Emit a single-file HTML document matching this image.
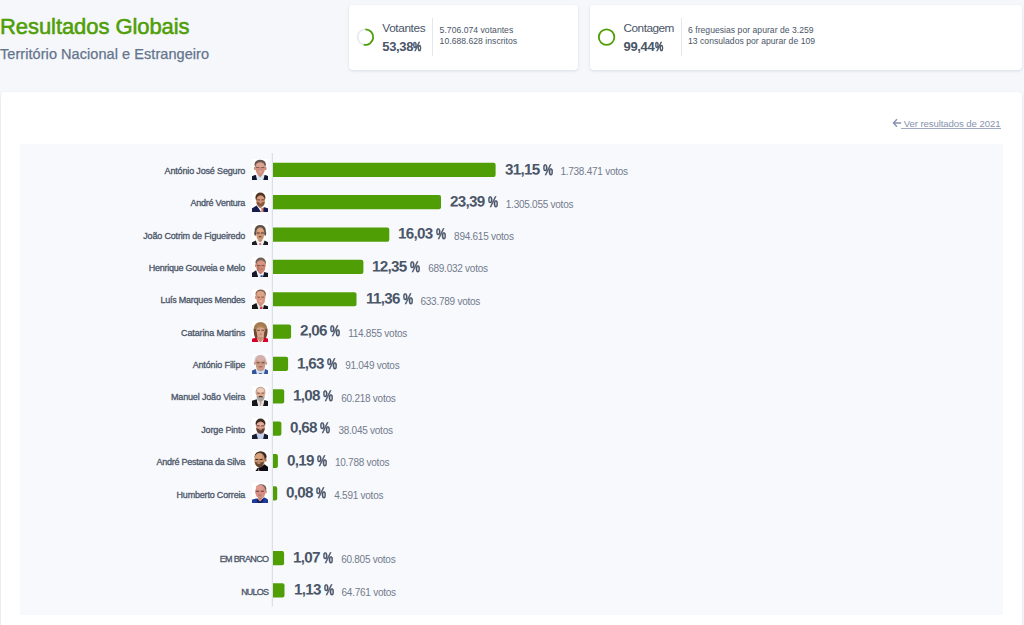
<!DOCTYPE html>
<html lang="pt">
<head>
<meta charset="utf-8">
<title>Resultados Globais</title>
<style>
*{box-sizing:border-box;margin:0;padding:0}
html,body{width:1024px;height:625px;overflow:hidden}
body{background:#f5f7fb;font-family:"Liberation Sans",sans-serif;color:#4a5568;position:relative}
.abs{position:absolute;white-space:nowrap}
#title{left:0px;top:12.4px;font-size:22px;line-height:30px;color:#4f9e06;-webkit-text-stroke:0.55px #4f9e06;letter-spacing:-0.07px}
#subtitle{left:0;top:44.5px;font-size:14.5px;line-height:18px;color:#64748b;-webkit-text-stroke:0.25px #64748b;letter-spacing:0.06px}
.card{position:absolute;background:#fff;border-radius:4px;box-shadow:0 1px 3px rgba(160,174,192,.35)}
#c1{left:348.5px;top:4.5px;width:229px;height:65px}
#c2{left:589.7px;top:4.5px;width:431.9px;height:65px}
#main{left:1px;top:92px;width:1020.6px;height:560px}
.lbl{font-size:11.8px;line-height:14px;color:#4a5568}
.pct{font-size:13px;line-height:16px;font-weight:bold;color:#4a5568;letter-spacing:-0.35px}
.pct i{font-style:normal;display:inline-block;width:8.4px;margin-left:0.3px;letter-spacing:0;transform:scaleX(.72);transform-origin:0 50%;-webkit-text-stroke:0.5px #4a5568}
.sm{font-size:8.6px;line-height:11px;color:#4a5568;letter-spacing:0.03px}
.vsep{position:absolute;width:1px;height:37.5px;top:18.3px;background:#e2e8f0}
#link{left:903.7px;top:117.5px;font-size:9.6px;line-height:12px;color:#8793ae;letter-spacing:-0.09px}
#panel{position:absolute;left:20px;top:143.5px;width:982.5px;height:471.6px;background:#f8f9fc}
.name{font-size:9px;line-height:14px;color:#4a5568;-webkit-text-stroke:0.3px #4a5568;letter-spacing:-0.17px}
.ph{left:251.9px;width:16.3px;height:20.6px;background:#fff;overflow:hidden}
.ph svg{display:block}
.val{font-size:15.2px;line-height:18px;font-weight:bold;color:#4a5568;letter-spacing:-0.7px}
.val b{display:inline-block;transform:translateY(-0.5px) rotate(0.03deg);transform-origin:0 58%}
.val i{font-style:normal;display:inline-block;width:9.9px;margin-left:0.2px;letter-spacing:0;transform:scaleX(.75);transform-origin:0 50%;-webkit-text-stroke:0.4px #4a5568}
.val span{font-size:10px;font-weight:normal;color:#727b8c;margin-left:7.7px;letter-spacing:-0.25px;position:relative;top:0.6px}
</style>
</head>
<body>
<div id="title" class="abs">Resultados Globais</div>
<div id="subtitle" class="abs">Território Nacional e Estrangeiro</div>
<div id="c1" class="card"></div>
<div id="c2" class="card"></div>
<svg class="abs" style="left:340px;top:0" width="300" height="80" viewBox="340 0 300 80">
<circle cx="365.4" cy="37.1" r="7.8" fill="none" stroke="#e6ebf3" stroke-width="1.8"/>
<path d="M365.4 29.3 A7.8 7.8 0 1 1 363.75 44.72" fill="none" stroke="#4f9e06" stroke-width="1.8"/>
<circle cx="606.6" cy="37.1" r="7.8" fill="none" stroke="#4f9e06" stroke-width="1.8"/>
</svg>
<div class="abs lbl" style="left:382.3px;top:20.6px;letter-spacing:-0.38px">Votantes</div>
<div class="abs pct" style="left:382.3px;top:39.1px">53,38<i>%</i></div>
<div class="vsep" style="left:432.2px"></div>
<div class="abs sm" style="left:439.6px;top:25.2px">5.706.074 votantes</div>
<div class="abs sm" style="left:439.6px;top:36.2px">10.688.628 inscritos</div>
<div class="abs lbl" style="left:623.5px;top:20.6px;letter-spacing:-0.5px">Contagem</div>
<div class="abs pct" style="left:623.5px;top:39.1px">99,44<i>%</i></div>
<div class="vsep" style="left:681px"></div>
<div class="abs sm" style="left:688px;top:25.2px">6 freguesias por apurar de 3.259</div>
<div class="abs sm" style="left:688px;top:36.2px">13 consulados por apurar de 109</div>
<div id="main" class="card"></div>
<div id="panel"></div>
<svg class="abs" style="left:892px;top:118.3px" width="10" height="10" viewBox="0 0 10 10"><path d="M9.2 5H1.9M5 1.3L1.4 5l3.6 3.7" fill="none" stroke="#8592ad" stroke-width="1.35"/></svg>
<div class="abs" style="left:901px;top:127.7px;width:99.5px;height:1px;background:#a0aabf"></div>
<div id="link" class="abs" style="text-decoration:none">Ver resultados de 2021</div>
<svg class="abs" style="left:0;top:0" width="1024" height="625" viewBox="0 0 1024 625">
<rect x="271.8" y="153" width="1" height="453.5" fill="#d3d9e5"/>
<path d="M273 162.75h220.6a2 2 0 0 1 2 2v10.2a2 2 0 0 1 -2 2h-220.6z" fill="#4f9e06"/>
<path d="M273 195.10h166.0a2 2 0 0 1 2 2v10.2a2 2 0 0 1 -2 2h-166.0z" fill="#4f9e06"/>
<path d="M273 227.45h114.3a2 2 0 0 1 2 2v10.2a2 2 0 0 1 -2 2h-114.3z" fill="#4f9e06"/>
<path d="M273 259.80h88.4a2 2 0 0 1 2 2v10.2a2 2 0 0 1 -2 2h-88.4z" fill="#4f9e06"/>
<path d="M273 292.15h81.5a2 2 0 0 1 2 2v10.2a2 2 0 0 1 -2 2h-81.5z" fill="#4f9e06"/>
<path d="M273 324.50h16.1a2 2 0 0 1 2 2v10.2a2 2 0 0 1 -2 2h-16.1z" fill="#4f9e06"/>
<path d="M273 356.85h13.1a2 2 0 0 1 2 2v10.2a2 2 0 0 1 -2 2h-13.1z" fill="#4f9e06"/>
<path d="M273 389.20h9.2a2 2 0 0 1 2 2v10.2a2 2 0 0 1 -2 2h-9.2z" fill="#4f9e06"/>
<path d="M273 421.55h6.4a2 2 0 0 1 2 2v10.2a2 2 0 0 1 -2 2h-6.4z" fill="#4f9e06"/>
<path d="M273 453.90h2.9a2 2 0 0 1 2 2v10.2a2 2 0 0 1 -2 2h-2.9z" fill="#4f9e06"/>
<path d="M273 486.25h2.2a2 2 0 0 1 2 2v10.2a2 2 0 0 1 -2 2h-2.2z" fill="#4f9e06"/>
<path d="M273 550.95h9.1a2 2 0 0 1 2 2v10.2a2 2 0 0 1 -2 2h-9.1z" fill="#4f9e06"/>
<path d="M273 583.30h9.5a2 2 0 0 1 2 2v10.2a2 2 0 0 1 -2 2h-9.5z" fill="#4f9e06"/>
</svg>
<div class="abs name" style="right:778.9px;top:163.9px;letter-spacing:-0.159px">António José Seguro</div>
<div class="abs ph" style="top:159.4px"><svg width="16.3" height="20.6" viewBox="0 0 16.3 21" preserveAspectRatio="none"><defs><filter id="b0" x="-20%" y="-20%" width="140%" height="140%"><feGaussianBlur stdDeviation="0.42"/></filter></defs><rect width="16.3" height="21" fill="#ffffff"/><g filter="url(#b0)"><path d="M3 16.4L4.6 21.5H11.8L13.4 16.4L8.2 14z" fill="#dfe7f2"/><path d="M-1 22V18L2.2 16.6L3.8 16.2L5.2 21.8zM17.3 22V18L14.2 16.6L12.6 16.2L11.2 21.8z" fill="#10132e"/><path d="M6 13h4.4v3.2l-2.2 2.6l-2.2-2.6z" fill="#c98878"/><ellipse cx="8.2" cy="5.6" rx="5.7" ry="4.9" fill="#635653" /><ellipse cx="2.8" cy="9.6" rx="0.9" ry="1.7" fill="#c98a7c" /><ellipse cx="13.7" cy="9.6" rx="0.9" ry="1.7" fill="#c98a7c" /><ellipse cx="8.2" cy="9.0" rx="5.1" ry="5.9" fill="#cf907f" /><ellipse cx="8.2" cy="12.2" rx="4.1" ry="4.3" fill="#cf907f" /><ellipse cx="8.2" cy="6.2" rx="3.9" ry="2.4" fill="#dda392" /><path d="M4.2 8.4h3.2v0.9H4.2zM9.1 8.4h3.2v0.9H9.1z" fill="#6e4a42"/><ellipse cx="8.2" cy="13.1" rx="1.8" ry="0.6" fill="#e6b8b0" /></g></svg></div>
<div class="abs val" style="left:504.6px;top:160.80px"><b>31,15 <i>%</i></b><span>1.738.471 votos</span></div>
<div class="abs name" style="right:778.9px;top:196.3px;letter-spacing:-0.216px">André Ventura</div>
<div class="abs ph" style="top:191.8px"><svg width="16.3" height="20.6" viewBox="0 0 16.3 21" preserveAspectRatio="none"><defs><filter id="b1" x="-20%" y="-20%" width="140%" height="140%"><feGaussianBlur stdDeviation="0.42"/></filter></defs><rect width="16.3" height="21" fill="#ffffff"/><g filter="url(#b1)"><path d="M-1 22V17.4L4.6 13.7L8.6 19L11.7 15.2L17.3 17.2V22z" fill="#151b4d"/><path d="M5.6 14.4L9.4 21.5L11.8 15.2L8.4 13.5z" fill="#f4f4f6"/><path d="M9.4 16.4h1.9l0.3 5h-2.4z" fill="#d8806c"/><path d="M6.3 11.5h4.2v3.6l-2.1 1.4l-2.1-1.4z" fill="#b57a60"/><ellipse cx="8.4" cy="5.6" rx="5.0" ry="5.0" fill="#4e3528" /><ellipse cx="8.6" cy="8.9" rx="4.2" ry="5.6" fill="#cf9072" /><ellipse cx="8.6" cy="11.4" rx="3.7" ry="3.4" fill="#cf9072" /><ellipse cx="8.6" cy="6.0" rx="3.0" ry="1.6" fill="#d99c7a" /><path d="M4.4 9.8Q8.5 11.6 12.8 9.8Q12.6 14.9 8.6 14.9Q4.6 14.9 4.4 9.8z" fill="#86593f"/><path d="M5.2 7.6h2.7v0.8H5.2zM9.3 7.6h2.7v0.8H9.3z" fill="#4a3026"/><ellipse cx="8.6" cy="10.8" rx="1.6" ry="0.9" fill="#c98b70" /></g></svg></div>
<div class="abs val" style="left:450.0px;top:193.13px"><b>23,39 <i>%</i></b><span>1.305.055 votos</span></div>
<div class="abs name" style="right:778.9px;top:228.6px;letter-spacing:-0.166px">João Cotrim de Figueiredo</div>
<div class="abs ph" style="top:224.1px"><svg width="16.3" height="20.6" viewBox="0 0 16.3 21" preserveAspectRatio="none"><defs><filter id="b2" x="-20%" y="-20%" width="140%" height="140%"><feGaussianBlur stdDeviation="0.42"/></filter></defs><rect width="16.3" height="21" fill="#ffffff"/><g filter="url(#b2)"><path d="M3.4 17L5 21.5H11.4L13 17L8.2 15z" fill="#f2f2f4"/><path d="M-1 22V19L3.8 16.8L5.6 21.8zM17.3 22V19L12.6 16.8L10.8 21.8z" fill="#1c1e22"/><path d="M7.5 19.4h1.5l0.4 2.3h-2.3z" fill="#e0707a"/><path d="M6.2 13h4v4l-2 1.6l-2-1.6z" fill="#c08a68"/><ellipse cx="8.2" cy="6.2" rx="5.6" ry="5.2" fill="#5a4f49" /><ellipse cx="3.3" cy="9.5" rx="1.1" ry="2.6" fill="#5a4f49" /><ellipse cx="13.1" cy="9.5" rx="1.1" ry="2.6" fill="#5a4f49" /><ellipse cx="8.2" cy="9.2" rx="4.2" ry="5.8" fill="#cf9676" /><ellipse cx="8.2" cy="12.4" rx="3.6" ry="4.0" fill="#cf9676" /><ellipse cx="8.2" cy="6.2" rx="2.9" ry="1.9" fill="#e0a684" /><path d="M4.6 8.7h3v1h-3zM8.9 8.7h3v1h-3z" fill="#4e3a30"/><ellipse cx="8.2" cy="13.0" rx="1.7" ry="0.6" fill="#4a3026" /></g></svg></div>
<div class="abs val" style="left:398.3px;top:225.47px"><b>16,03 <i>%</i></b><span>894.615 votos</span></div>
<div class="abs name" style="right:779.0px;top:261.0px;letter-spacing:-0.253px">Henrique Gouveia e Melo</div>
<div class="abs ph" style="top:256.5px"><svg width="16.3" height="20.6" viewBox="0 0 16.3 21" preserveAspectRatio="none"><defs><filter id="b3" x="-20%" y="-20%" width="140%" height="140%"><feGaussianBlur stdDeviation="0.42"/></filter></defs><rect width="16.3" height="21" fill="#ffffff"/><g filter="url(#b3)"><path d="M-1 22V16.8L4.2 13.4L6.6 21.8zM17.3 22V16.6L11.8 15.4L10.6 21.8z" fill="#14172b"/><path d="M5 14.4L6.8 21.5H10.6L12 15.4L8.6 13.5z" fill="#eef1f6"/><path d="M8.6 18.7h2l0.3 3h-2.6z" fill="#2b4fa0"/><path d="M6.6 12.4h4v3.6l-2 1.6l-2-1.6z" fill="#c07c68"/><ellipse cx="8.7" cy="5.4" rx="5.2" ry="4.9" fill="#6e605a" /><ellipse cx="3.9" cy="8.8" rx="0.9" ry="1.7" fill="#c98672" /><ellipse cx="8.9" cy="8.6" rx="4.8" ry="5.6" fill="#cf8874" /><ellipse cx="8.9" cy="11.6" rx="4.2" ry="4.2" fill="#cf8874" /><ellipse cx="9.0" cy="6.1" rx="3.6" ry="1.8" fill="#da9884" /><path d="M5.2 8.1h3v0.9h-3zM9.6 8.1h3v0.9h-3z" fill="#5e4038"/><ellipse cx="6" cy="11.6" rx="1.2" ry="2.6" fill="#b87462" /><ellipse cx="9" cy="12.3" rx="1.9" ry="0.6" fill="#b87466" /></g></svg></div>
<div class="abs val" style="left:372.4px;top:257.80px"><b>12,35 <i>%</i></b><span>689.032 votos</span></div>
<div class="abs name" style="right:778.9px;top:293.4px;letter-spacing:-0.228px">Luís Marques Mendes</div>
<div class="abs ph" style="top:288.8px"><svg width="16.3" height="20.6" viewBox="0 0 16.3 21" preserveAspectRatio="none"><defs><filter id="b4" x="-20%" y="-20%" width="140%" height="140%"><feGaussianBlur stdDeviation="0.42"/></filter></defs><rect width="16.3" height="21" fill="#ffffff"/><g filter="url(#b4)"><path d="M4.4 14.6L6.4 21.5H11L12.4 16.2L8.6 14z" fill="#e8eef2"/><path d="M-1 22V17.2L4.4 14.3L6.8 21.8zM17.3 22V18L12 16.2L10.6 21.8z" fill="#121316"/><path d="M8 17.8h2.4l0.2 2.4l-1.4 0.9l-1.4-0.9z" fill="#d6404a"/><path d="M6.6 12.6h4v3.4l-2 1.8l-2-1.8z" fill="#cc8c74"/><ellipse cx="8.7" cy="5.2" rx="5.2" ry="4.7" fill="#80604f" /><ellipse cx="3.7" cy="8.6" rx="0.8" ry="1.6" fill="#d59880" /><ellipse cx="8.7" cy="8.4" rx="4.8" ry="5.6" fill="#d8987f" /><ellipse cx="8.8" cy="11.6" rx="4.1" ry="4.2" fill="#d8987f" /><ellipse cx="8.4" cy="4.9" rx="3.8" ry="2.9" fill="#dfa389" /><path d="M5.2 7.9h2.8v0.8H5.2zM9.4 7.9h2.8v0.8H9.4z" fill="#6a4a3e"/><ellipse cx="8.8" cy="12.3" rx="1.8" ry="0.6" fill="#ecc4bc" /></g></svg></div>
<div class="abs val" style="left:365.5px;top:290.13px"><b>11,36 <i>%</i></b><span>633.789 votos</span></div>
<div class="abs name" style="right:778.8px;top:325.7px;letter-spacing:-0.114px">Catarina Martins</div>
<div class="abs ph" style="top:321.2px"><svg width="16.3" height="20.6" viewBox="0 0 16.3 21" preserveAspectRatio="none"><defs><filter id="b5" x="-20%" y="-20%" width="140%" height="140%"><feGaussianBlur stdDeviation="0.42"/></filter></defs><rect width="16.3" height="21" fill="#ffffff"/><g filter="url(#b5)"><ellipse cx="8.5" cy="8.4" rx="6.9" ry="7.4" fill="#a47c52" /><path d="M1.9 8Q1.3 14 3.4 17.8L6 17.8L4.8 9zM15.4 8Q16 14 13.8 17.8L11.2 17.8L12.4 9z" fill="#6e4a34"/><path d="M4.6 17L8.4 22.5L12.2 17L8.4 14.6z" fill="#c2906f"/><path d="M-1 22V18.6Q2 16.8 4.8 17L6.6 21.8zM17.3 22V18.6Q14.6 16.8 12 17L10.4 21.8z" fill="#d4002a"/><ellipse cx="8.5" cy="9.6" rx="4.2" ry="4.6" fill="#d9a58c" /><ellipse cx="8.5" cy="12.4" rx="3.6" ry="3.8" fill="#d9a58c" /><path d="M3.8 8.8Q4.4 3.8 9.4 4.4Q13 5 13.2 9.2Q11 5.8 8 6.4Q5.4 6.8 3.8 8.8z" fill="#b08656"/><path d="M5.2 9h2.6v0.9H5.2zM9.4 9h2.6v0.9H9.4z" fill="#5e4436"/><ellipse cx="8.5" cy="13.4" rx="1.5" ry="0.55" fill="#c07c70" /></g></svg></div>
<div class="abs val" style="left:300.1px;top:322.46px"><b>2,06 <i>%</i></b><span>114.855 votos</span></div>
<div class="abs name" style="right:778.8px;top:358.1px;letter-spacing:-0.141px">António Filipe</div>
<div class="abs ph" style="top:353.6px"><svg width="16.3" height="20.6" viewBox="0 0 16.3 21" preserveAspectRatio="none"><defs><filter id="b6" x="-20%" y="-20%" width="140%" height="140%"><feGaussianBlur stdDeviation="0.42"/></filter></defs><rect width="16.3" height="21" fill="#fbfcff"/><g filter="url(#b6)"><path d="M3.2 15.6L4.6 21.5H12.2L13.6 15.6L8.4 14z" fill="#cfe0f5"/><path d="M-1 22V17.4L3.6 15.2L5.2 21.8zM17.3 22V17.4L13.2 15.2L11.6 21.8z" fill="#34559a"/><path d="M7 19.6h2.8l0.4 2.1H6.6z" fill="#2a4a80"/><ellipse cx="8.4" cy="6.6" rx="6.0" ry="5.8" fill="#cfc6cf" /><ellipse cx="2.8" cy="9.4" rx="0.9" ry="1.8" fill="#cf9c8c" /><ellipse cx="14.2" cy="9.4" rx="0.9" ry="1.8" fill="#cf9c8c" /><ellipse cx="8.5" cy="9.0" rx="5.2" ry="6.2" fill="#cc9a84" /><ellipse cx="8.5" cy="12.8" rx="4.4" ry="4.8" fill="#cc9a84" /><ellipse cx="8.4" cy="4.4" rx="3.8" ry="3.1" fill="#d6b0a8" /><path d="M4.6 8.4h3v1h-3zM9.6 8.4h3v1h-3z" fill="#5e4a44"/><ellipse cx="8.6" cy="13.0" rx="2.2" ry="0.7" fill="#a86a60" /></g></svg></div>
<div class="abs val" style="left:297.1px;top:354.80px"><b>1,63 <i>%</i></b><span>91.049 votos</span></div>
<div class="abs name" style="right:778.9px;top:390.4px;letter-spacing:-0.153px">Manuel João Vieira</div>
<div class="abs ph" style="top:385.9px"><svg width="16.3" height="20.6" viewBox="0 0 16.3 21" preserveAspectRatio="none"><defs><filter id="b7" x="-20%" y="-20%" width="140%" height="140%"><feGaussianBlur stdDeviation="0.42"/></filter></defs><rect width="16.3" height="21" fill="#ffffff"/><g filter="url(#b7)"><path d="M-1 22V15.4L4.8 13.6L6.4 21.5zM17.3 22V15.8L12.4 14.2L10.8 21.5z" fill="#15161a"/><path d="M5 14L6.6 21.5H10.6L12.2 14.4z" fill="#dfe5ea"/><path d="M7.4 15.4L8.6 21.5L9.8 15.4z" fill="#d8a084"/><ellipse cx="8.5" cy="6.0" rx="5.0" ry="5.2" fill="#b3a79e" /><ellipse cx="8.6" cy="7.6" rx="4.3" ry="6.4" fill="#e0aa92" /><ellipse cx="8.6" cy="4.4" rx="3.2" ry="2.4" fill="#f0cbb4" /><path d="M4.4 10.4Q8.6 12.2 12.8 10.4Q12.4 15.6 8.6 15.6Q4.8 15.6 4.4 10.4z" fill="#a9a39e"/><path d="M6.6 10.4Q8.6 9.4 10.6 10.4L10.4 11.6Q8.6 10.8 6.8 11.6z" fill="#4a3a34"/><path d="M5 6.8h2.8v0.9H5zM9.4 6.8h2.8v0.9H9.4z" fill="#5c4438"/></g></svg></div>
<div class="abs val" style="left:293.2px;top:387.13px"><b>1,08 <i>%</i></b><span>60.218 votos</span></div>
<div class="abs name" style="right:778.8px;top:422.8px;letter-spacing:-0.143px">Jorge Pinto</div>
<div class="abs ph" style="top:418.2px"><svg width="16.3" height="20.6" viewBox="0 0 16.3 21" preserveAspectRatio="none"><defs><filter id="b8" x="-20%" y="-20%" width="140%" height="140%"><feGaussianBlur stdDeviation="0.42"/></filter></defs><rect width="16.3" height="21" fill="#ffffff"/><g filter="url(#b8)"><path d="M4 16L5.4 21.5H11.6L12.8 16L8.4 14.4z" fill="#c5cfea"/><path d="M-1 22V18L4.4 15.8L6 21.8zM17.3 22V18L12.4 15.8L11 21.8z" fill="#171a30"/><ellipse cx="8.5" cy="5.6" rx="4.9" ry="5.0" fill="#3a2a24" /><ellipse cx="8.5" cy="9.0" rx="4.4" ry="5.4" fill="#dc9f8c" /><ellipse cx="8.5" cy="12.0" rx="3.8" ry="4.0" fill="#dc9f8c" /><ellipse cx="8.5" cy="6.2" rx="3.1" ry="1.6" fill="#e8b09c" /><path d="M4.2 10.2Q8.5 12 12.8 10.2Q12.6 16 8.5 16Q4.4 16 4.2 10.2z" fill="#5a4036"/><ellipse cx="8.5" cy="11.7" rx="1.5" ry="0.7" fill="#c08070" /><path d="M5 7.6h2.8v0.9H5zM9.2 7.6h2.8v0.9H9.2z" fill="#3e2a24"/></g></svg></div>
<div class="abs val" style="left:290.4px;top:419.46px"><b>0,68 <i>%</i></b><span>38.045 votos</span></div>
<div class="abs name" style="right:779.0px;top:455.1px;letter-spacing:-0.252px">André Pestana da Silva</div>
<div class="abs ph" style="top:450.6px"><svg width="16.3" height="20.6" viewBox="0 0 16.3 21" preserveAspectRatio="none"><defs><filter id="b9" x="-20%" y="-20%" width="140%" height="140%"><feGaussianBlur stdDeviation="0.42"/></filter></defs><rect width="16.3" height="21" fill="#ffffff"/><g filter="url(#b9)"><path d="M2.6 21.5L5.6 17.6L12.4 13.6L16.2 16.4V21.5z" fill="#0e1014"/><ellipse cx="8.6" cy="5.6" rx="6.0" ry="5.4" fill="#3a2c24" /><ellipse cx="13.7" cy="9.2" rx="0.9" ry="1.8" fill="#a8714e" /><ellipse cx="7.6" cy="9.2" rx="5.3" ry="7.4" fill="#c8906c" /><ellipse cx="6.8" cy="5.4" rx="3.6" ry="2.6" fill="#d8a27c" /><path d="M2.8 11Q7 13 11.8 10.6Q11.4 16.8 7.4 16.8Q3.6 16.4 2.8 11z" fill="#664632"/><ellipse cx="6.8" cy="12.6" rx="1.7" ry="0.8" fill="#c08c70" /><path d="M3.4 8.2h2.8v1H3.4zM7.6 8.2h3v1h-3z" fill="#3e2c22"/><path d="M6.4 17.4L8 21.5H6z" fill="#c8a080"/></g></svg></div>
<div class="abs val" style="left:286.9px;top:451.80px"><b>0,19 <i>%</i></b><span>10.788 votos</span></div>
<div class="abs name" style="right:778.9px;top:487.5px;letter-spacing:-0.183px">Humberto Correia</div>
<div class="abs ph" style="top:482.9px"><svg width="16.3" height="20.6" viewBox="0 0 16.3 21" preserveAspectRatio="none"><defs><filter id="b10" x="-20%" y="-20%" width="140%" height="140%"><feGaussianBlur stdDeviation="0.42"/></filter></defs><rect width="16.3" height="21" fill="#ffffff"/><g filter="url(#b10)"><path d="M-1 22V17.4Q3 15.6 5.6 15.8L8 18.6L12 14.6Q15 16 17.3 18V22z" fill="#1a3a9a"/><path d="M5.4 16.4L8 20L11.6 15.6L11 18.6L8 21.5L5 19z" fill="#121a40"/><ellipse cx="9.2" cy="5.8" rx="5.2" ry="4.6" fill="#6e6662" /><ellipse cx="14.0" cy="8.8" rx="0.8" ry="1.7" fill="#c87c72" /><ellipse cx="8.4" cy="8.9" rx="5.2" ry="6.9" fill="#d98c80" /><ellipse cx="7.8" cy="4.6" rx="3.8" ry="2.6" fill="#e39a8e" /><path d="M3.8 7.8h3.2v1.1H3.8zM8.8 7.8h3.2v1.1H8.8z" fill="#5a4444"/><ellipse cx="7.8" cy="12.2" rx="1.8" ry="0.6" fill="#a87068" /><path d="M6 14.8h4.4L9.6 17.4L8 18.6L6.4 17.4z" fill="#c88474"/></g></svg></div>
<div class="abs val" style="left:286.2px;top:484.13px"><b>0,08 <i>%</i></b><span>4.591 votos</span></div>
<div class="abs name" style="right:755.5px;top:552.2px;letter-spacing:-0.626px">EM BRANCO</div>
<div class="abs val" style="left:293.1px;top:548.80px"><b>1,07 <i>%</i></b><span>60.805 votos</span></div>
<div class="abs name" style="right:755.7px;top:584.5px;letter-spacing:-0.770px">NULOS</div>
<div class="abs val" style="left:293.5px;top:581.13px"><b>1,13 <i>%</i></b><span>64.761 votos</span></div>
</body>
</html>
